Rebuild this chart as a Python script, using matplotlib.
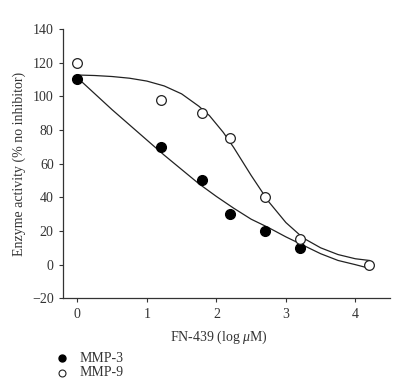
import matplotlib.pyplot as plt
from matplotlib.lines import Line2D

# measured points
x_mmp3 = [0, 1.2, 1.8, 2.2, 2.7, 3.2]
y_mmp3 = [110, 70, 50, 30, 20, 10]
x_mmp9 = [0, 1.2, 1.8, 2.2, 2.7, 3.2, 4.2]
y_mmp9 = [120, 98, 90, 75, 40, 15, 0]

# fitted curves
fit3_x = [0, 0.25, 0.5, 0.75, 1.0, 1.25, 1.5, 1.75, 2.0, 2.25, 2.5, 2.75, 3.0, 3.25, 3.5, 3.75, 4.0, 4.13]
fit3_y = [111, 101.5, 92, 83, 74, 65, 56.5, 48, 40.5, 33.5, 27, 22, 16.5, 11.5, 6.5, 2.5, 0, -1.4]
fit9_x = [0, 0.25, 0.5, 0.75, 1.0, 1.25, 1.5, 1.75, 1.9, 2.0, 2.1, 2.25, 2.5, 2.75, 3.0, 3.25, 3.5, 3.75, 4.0, 4.2]
fit9_y = [112.6, 112.3, 111.7, 110.7, 109, 106.1, 101.4, 94, 88.5, 83.5, 78.5, 69.5, 53, 37.5, 25, 15.8, 10, 6, 3.5, 2.5]

xticks = [0, 1, 2, 3, 4]
yticks = [-20, 0, 20, 40, 60, 80, 100, 120, 140]
labels = ['MMP-3', 'MMP-9']


def main():
    plt.rcParams['font.family'] = ['Liberation Serif', 'DejaVu Serif']
    plt.rcParams['mathtext.fontset'] = 'custom'
    plt.rcParams['mathtext.it'] = 'Liberation Serif:italic'
    plt.rcParams['mathtext.rm'] = 'Liberation Serif'
    fig = plt.figure(figsize=(4.12, 3.9), dpi=100)
    ax = fig.add_axes([0.154, 0.235, 0.793, 0.691])
    txt = '#333333'
    fs = 10

    ax.plot(fit3_x, fit3_y, color='#222222', lw=0.9)
    ax.plot(fit9_x, fit9_y, color='#222222', lw=0.9)
    ax.plot(x_mmp3, y_mmp3, 'o', color='black', ms=7, mec='black', clip_on=False)
    ax.plot(x_mmp9, y_mmp9, 'o', mfc='white', mec='#222222', ms=7, mew=0.9, clip_on=False)

    ax.set_xlim(-0.2, 4.5)
    ax.set_ylim(-20, 140)
    ax.set_xticks(xticks)
    ax.set_yticks(yticks)
    ax.spines['top'].set_visible(False)
    ax.spines['right'].set_visible(False)
    for s in ['left', 'bottom']:
        ax.spines[s].set_linewidth(0.9)
        ax.spines[s].set_color(txt)
    ax.tick_params(direction='out', length=3, width=0.8, labelsize=fs, colors=txt, pad=4)

    ax.set_xlabel('FN-439 (log $\\mathit{\\mu}$M)', fontsize=fs, color=txt)
    ax.xaxis.set_label_coords(0.477, -0.113)
    ax.set_ylabel('Enzyme activity (% no inhibitor)', fontsize=fs, color=txt)
    ax.yaxis.set_label_coords(-0.115, 0.5)

    # legend drawn below the axes
    leg_y = [0.082, 0.044]
    fig.add_artist(Line2D([0.150], [leg_y[0]], marker='o', ms=5, color='black',
                          transform=fig.transFigure))
    fig.add_artist(Line2D([0.150], [leg_y[1]], marker='o', ms=5, mfc='white', mec='#222222',
                          mew=0.8, transform=fig.transFigure))
    for lab, yy in zip(labels, leg_y):
        fig.text(0.192, yy, lab, fontsize=fs, color=txt, va='center', ha='left')

    fig.savefig('out.png', dpi=100)


if __name__ == '__main__':
    main()
